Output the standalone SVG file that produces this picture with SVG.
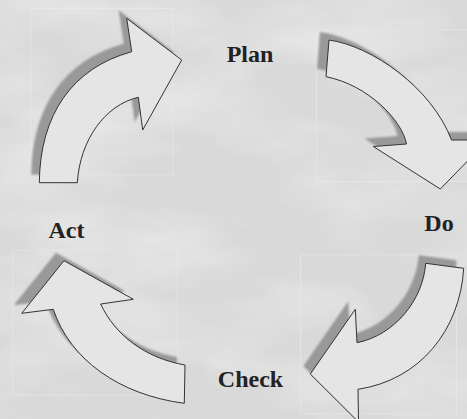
<svg xmlns="http://www.w3.org/2000/svg" width="467" height="419" viewBox="0 0 467 419">
  <defs>
    <filter id="marble" x="0" y="0" width="100%" height="100%">
      <feTurbulence type="fractalNoise" baseFrequency="0.006 0.014" numOctaves="4" seed="7"/>
      <feColorMatrix type="matrix" values="0 0 0 0 1  0 0 0 0 1  0 0 0 0 1  0.9 0 0 0 -0.36"/>
    </filter>
    <filter id="soft" x="-10%" y="-10%" width="120%" height="120%">
      <feGaussianBlur stdDeviation="1"/>
    </filter>
    <style>
      .shadow { fill: #999999; filter: url(#soft); }
      .arrow { fill: #e5e5e5; stroke: #333333; stroke-width: 1; stroke-linejoin: miter; }
      .frame { fill: none; stroke: #eeeeee; stroke-width: 1; opacity: 0.5; }
      .label { font-family: "Liberation Serif", "Times New Roman", serif; font-weight: bold; font-size: 24px; fill: #222222; text-anchor: middle; }
    </style>
  </defs>

  <rect width="467" height="419" fill="#d9d9d9"/>
  <rect width="467" height="419" filter="url(#marble)"/>

  <g id="connectors">
    <g id="arrow-act-plan">
      <rect class="frame" x="31" y="8.5" width="142" height="166.5"/>
      <path class="shadow" transform="translate(-8,-8)" d="M39.3,182.7 C40,115 72,68 131.7,51.7 L126.7,18.3 L181.7,60 L142.7,130 L138.3,97.3 C105,105 80,140 77.3,182.7 Z"/>
      <path class="arrow" d="M39.3,182.7 C40,115 72,68 131.7,51.7 L126.7,18.3 L181.7,60 L142.7,130 L138.3,97.3 C105,105 80,140 77.3,182.7 Z"/>
    </g>
    <g id="arrow-plan-do">
      <rect class="frame" x="316.5" y="30" width="160" height="151.5"/>
      <path class="shadow" transform="translate(-9,-8)" d="M329,40 C372,46 432,88 451.5,140 L488,140 L440.3,189 L373.3,146.5 L406.5,144 C402,120 368,85 326,76.7 Z"/>
      <path class="arrow" d="M329,40 C372,46 432,88 451.5,140 L488,140 L440.3,189 L373.3,146.5 L406.5,144 C402,120 368,85 326,76.7 Z"/>
    </g>
    <g id="arrow-do-check">
      <rect class="frame" x="300.5" y="255" width="156" height="159"/>
      <path class="shadow" transform="translate(-7,-8)" d="M425.7,263.3 L463.7,268.3 C460,330 420,380 358,389.3 L358.5,422 L310.3,374 L355.3,309.3 L357,342.7 C395,335 423,300 425.7,263.3 Z"/>
      <path class="arrow" d="M425.7,263.3 L463.7,268.3 C460,330 420,380 358,389.3 L358.5,422 L310.3,374 L355.3,309.3 L357,342.7 C395,335 423,300 425.7,263.3 Z"/>
    </g>
    <g id="arrow-check-act">
      <rect class="frame" x="12.5" y="250" width="165" height="145"/>
      <path class="shadow" transform="translate(-8,-8)" d="M184.3,403.3 C120,395 70,360 53.3,309.3 L21.7,313.3 L64,260.7 L133.3,299.3 L100.7,304 C115,335 145,358 185,365 Z"/>
      <path class="arrow" d="M184.3,403.3 C120,395 70,360 53.3,309.3 L21.7,313.3 L64,260.7 L133.3,299.3 L100.7,304 C115,335 145,358 185,365 Z"/>
    </g>
  </g>

  <g id="node-plan"><text class="label" x="250" y="62">Plan</text></g>
  <g id="node-do"><text class="label" x="439" y="231">Do</text></g>
  <g id="node-check"><text class="label" x="250.5" y="387">Check</text></g>
  <g id="node-act"><text class="label" x="66.5" y="237.5">Act</text></g>
</svg>
